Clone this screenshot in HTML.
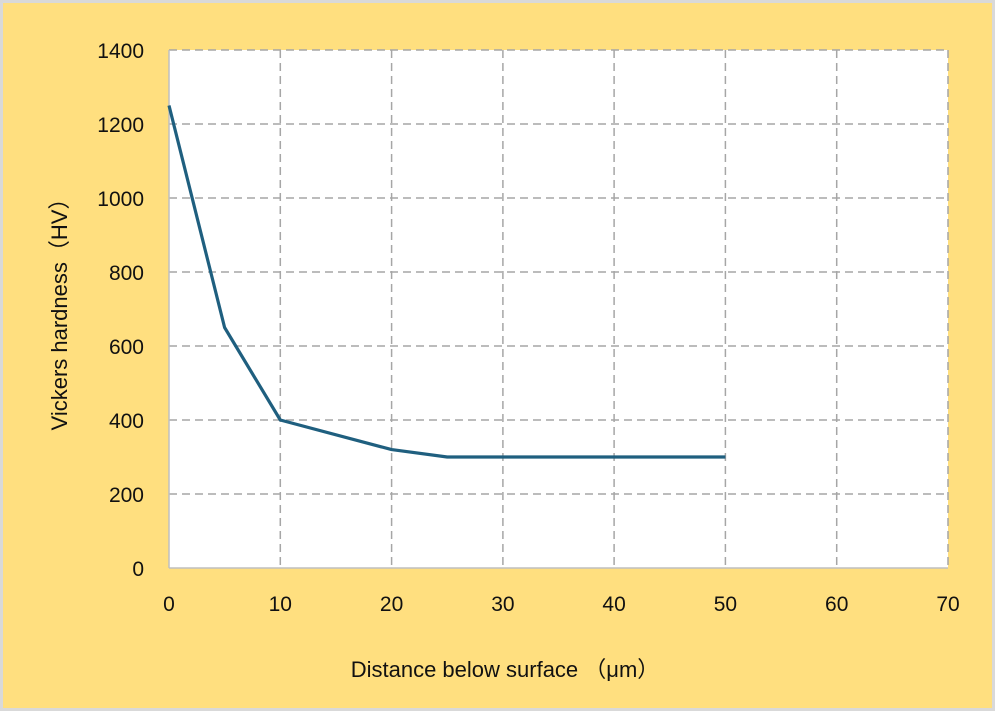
<!DOCTYPE html>
<html><head><style>
body{margin:0;width:995px;height:712px;overflow:hidden;background:#fff}
</style></head><body>
<svg width="995" height="712" xmlns="http://www.w3.org/2000/svg" font-family="'Liberation Sans',sans-serif">
<rect x="1.5" y="1.5" width="992" height="708" fill="#ffdf7f" stroke="#d9d9d9" stroke-width="3"/>
<rect x="169" y="50" width="779" height="518" fill="#fff"/>
<g stroke="#a6a6a6" stroke-width="1.5" stroke-dasharray="8,5">
<line x1="169" y1="50" x2="948" y2="50"/>
<line x1="169" y1="124" x2="948" y2="124"/>
<line x1="169" y1="198" x2="948" y2="198"/>
<line x1="169" y1="272" x2="948" y2="272"/>
<line x1="169" y1="346" x2="948" y2="346"/>
<line x1="169" y1="420" x2="948" y2="420"/>
<line x1="169" y1="494" x2="948" y2="494"/>
<line x1="280.3" y1="50" x2="280.3" y2="568"/>
<line x1="391.6" y1="50" x2="391.6" y2="568"/>
<line x1="502.9" y1="50" x2="502.9" y2="568"/>
<line x1="614.1" y1="50" x2="614.1" y2="568"/>
<line x1="725.4" y1="50" x2="725.4" y2="568"/>
<line x1="836.7" y1="50" x2="836.7" y2="568"/>
<line x1="948" y1="50" x2="948" y2="568"/>
</g>
<g stroke="#bfbfbf" stroke-width="1.5">
<line x1="169" y1="50" x2="169" y2="568"/>
<line x1="169" y1="568" x2="948" y2="568"/>
</g>
<polyline fill="none" stroke="#1f5f7f" stroke-width="3.2" stroke-linejoin="round" points="169,105.5 224.6,327.5 280.3,420 391.6,449.6 447.2,457 725.4,457"/>
<g font-size="21" fill="#111" text-anchor="end">
<text x="144" y="58">1400</text>
<text x="144" y="132">1200</text>
<text x="144" y="206">1000</text>
<text x="144" y="280">800</text>
<text x="144" y="354">600</text>
<text x="144" y="428">400</text>
<text x="144" y="502">200</text>
<text x="144" y="576">0</text>
</g>
<g font-size="21" fill="#111" text-anchor="middle">
<text x="169" y="611">0</text>
<text x="280.3" y="611">10</text>
<text x="391.6" y="611">20</text>
<text x="502.9" y="611">30</text>
<text x="614.1" y="611">40</text>
<text x="725.4" y="611">50</text>
<text x="836.7" y="611">60</text>
<text x="948" y="611">70</text>
<text x="505" y="677" font-size="22" font-family="'Liberation Sans','Noto Sans CJK JP',sans-serif">Distance below surface （μm）</text>
<text transform="translate(67,309) rotate(-90)" font-size="22" font-family="'Liberation Sans','Noto Sans CJK JP',sans-serif">Vickers hardness（HV）</text>
</g>
</svg>
</body></html>
